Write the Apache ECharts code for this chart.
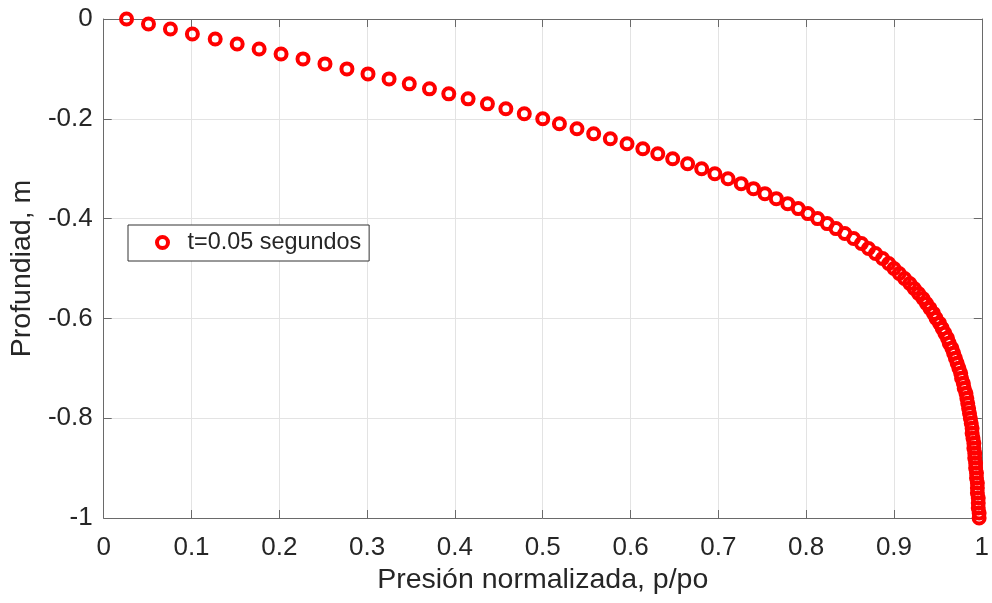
<!DOCTYPE html>
<html>
<head>
<meta charset="utf-8">
<script src="https://cdn.jsdelivr.net/npm/echarts@6/dist/echarts.min.js"></script>
<style>
  html, body { margin: 0; padding: 0; background: #fff; }
  #chart { width: 992px; height: 603px; }
</style>
</head>
<body>
<div id="chart"></div>
<script>
// Normalized pore pressure p/po against depth at t = 0.05 s
const seriesName = 't=0.05 segundos';

const depth = [
  0, -0.01, -0.02, -0.03, -0.04, -0.05, -0.06, -0.07, -0.08, -0.09,
  -0.1, -0.11, -0.12, -0.13, -0.14, -0.15, -0.16, -0.17, -0.18, -0.19,
  -0.2, -0.21, -0.22, -0.23, -0.24, -0.25, -0.26, -0.27, -0.28, -0.29,
  -0.3, -0.31, -0.32, -0.33, -0.34, -0.35, -0.36, -0.37, -0.38, -0.39,
  -0.4, -0.41, -0.42, -0.43, -0.44, -0.45, -0.46, -0.47, -0.48, -0.49,
  -0.5, -0.51, -0.52, -0.53, -0.54, -0.55, -0.56, -0.57, -0.58, -0.59,
  -0.6, -0.61, -0.62, -0.63, -0.64, -0.65, -0.66, -0.67, -0.68, -0.69,
  -0.7, -0.71, -0.72, -0.73, -0.74, -0.75, -0.76, -0.77, -0.78, -0.79,
  -0.8, -0.81, -0.82, -0.83, -0.84, -0.85, -0.86, -0.87, -0.88, -0.89,
  -0.9, -0.91, -0.92, -0.93, -0.94, -0.95, -0.96, -0.97, -0.98, -0.99,
  -1
];

const pressure = [
  0.026, 0.051, 0.076, 0.101, 0.127, 0.152, 0.177, 0.202, 0.227, 0.252,
  0.277, 0.301, 0.325, 0.348, 0.371, 0.393, 0.415, 0.437, 0.458, 0.479,
  0.500, 0.519, 0.539, 0.558, 0.577, 0.596, 0.614, 0.631, 0.648, 0.665,
  0.681, 0.696, 0.711, 0.726, 0.740, 0.753, 0.766, 0.779, 0.791, 0.802,
  0.813, 0.824, 0.834, 0.844, 0.854, 0.863, 0.871, 0.879, 0.887, 0.894,
  0.900, 0.906, 0.912, 0.918, 0.923, 0.928, 0.933, 0.937, 0.941, 0.945,
  0.948, 0.952, 0.955, 0.958, 0.961, 0.963, 0.966, 0.968, 0.970, 0.972,
  0.974, 0.976, 0.977, 0.979, 0.980, 0.982, 0.983, 0.984, 0.985, 0.986,
  0.987, 0.988, 0.989, 0.989, 0.990, 0.991, 0.991, 0.992, 0.992, 0.993,
  0.993, 0.994, 0.994, 0.995, 0.995, 0.995, 0.996, 0.996, 0.996, 0.997,
  0.997
];

const xTicks = { min: 0, max: 1, step: 0.1 };
const yTicks = { min: -1, max: 0, step: 0.2 };

const FONT = "'Liberation Sans', Arial, Helvetica, sans-serif";
const TEXT = '#262626';
const AXIS = '#6a6a6a';
const GRID = '#e3e3e3';
const RED = '#ff0000';

const points = pressure.map((p, i) => [p, depth[i]]);

// Axis with inward ticks; used for all four sides of the plot box
function boxAxis(extra) {
  return Object.assign({
    type: 'value',
    axisLine: { show: true, onZero: false, lineStyle: { color: AXIS, width: 1 } },
    axisTick: { show: true, inside: true, length: 8, lineStyle: { color: AXIS } },
    splitLine: { show: false },
    axisLabel: { show: false }
  }, extra);
}

const chart = echarts.init(document.getElementById('chart'), null, { renderer: 'canvas' });

chart.setOption({
  animation: false,
  backgroundColor: '#fff',
  textStyle: { fontFamily: FONT },
  grid: { left: 101, right: 9, top: 19, bottom: 85, containLabel: false },
  legend: {
    left: 128,
    top: 225,
    orient: 'vertical',
    backgroundColor: '#fff',
    borderColor: '#333',
    borderWidth: 1,
    borderRadius: 0,
    padding: [6, 8, 7, 27],
    itemWidth: 40,
    itemHeight: 11,
    textStyle: { fontFamily: FONT, fontSize: 23.4, color: TEXT },
    data: [{
      name: seriesName,
      icon: 'circle',
      itemStyle: { color: 'rgba(0,0,0,0)', borderColor: RED, borderWidth: 4 }
    }]
  },
  xAxis: [
    boxAxis({
      position: 'bottom',
      min: xTicks.min, max: xTicks.max, interval: xTicks.step,
      name: 'Presión normalizada, p/po',
      nameLocation: 'middle',
      nameGap: 38,
      nameTextStyle: { fontFamily: FONT, fontSize: 28.5, color: TEXT },
      axisLabel: { show: true, fontFamily: FONT, fontSize: 26, color: TEXT, margin: 17 },
      splitLine: { show: true, lineStyle: { color: GRID, width: 1 } }
    }),
    boxAxis({ position: 'top', min: xTicks.min, max: xTicks.max, interval: xTicks.step })
  ],
  yAxis: [
    boxAxis({
      position: 'left',
      min: yTicks.min, max: yTicks.max, interval: yTicks.step,
      name: 'Profundiad, m',
      nameLocation: 'middle',
      nameGap: 59,
      nameTextStyle: { fontFamily: FONT, fontSize: 28.5, color: TEXT },
      axisLabel: { show: true, fontFamily: FONT, fontSize: 26, color: TEXT, margin: 11 },
      splitLine: { show: true, lineStyle: { color: GRID, width: 1 } }
    }),
    boxAxis({ position: 'right', min: yTicks.min, max: yTicks.max, interval: yTicks.step })
  ],
  series: [{
    name: seriesName,
    type: 'scatter',
    xAxisIndex: 0,
    yAxisIndex: 0,
    symbol: 'circle',
    symbolSize: 11,
    itemStyle: { color: 'rgba(0,0,0,0)', borderColor: RED, borderWidth: 4, opacity: 1 },
    emphasis: { disabled: true },
    data: points,
    z: 5
  }]
});
</script>
</body>
</html>
